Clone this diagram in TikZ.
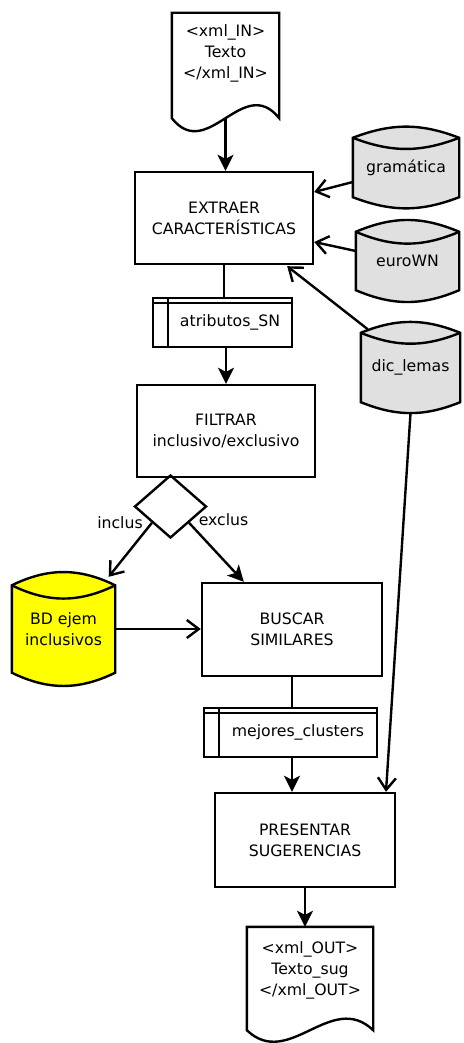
\documentclass[tikz,border=0pt]{standalone}
\usepackage{fontspec}
\setmainfont{DejaVu Sans}
\usetikzlibrary{shapes.geometric,arrows.meta,backgrounds}
\definecolor{gris}{RGB}{224,224,224}
\definecolor{amarillo}{RGB}{255,255,0}
\begin{document}
\begin{tikzpicture}[x=1pt, y=-1pt,
    texto/.style={font=\fontsize{15.7}{21}\selectfont},
    etiqueta/.style={texto, inner sep=0pt},
    caja/.style={texto, align=center, draw, line width=2.4pt, inner sep=0pt},
    datos/.style={texto, draw, line width=2.4pt, inner sep=0pt,
        execute at begin node={\hspace*{15pt}},
        path picture={
            \draw[line width=2.4pt] ([xshift=15pt]path picture bounding box.north west) -- ([xshift=15pt]path picture bounding box.south west);
            \draw[line width=2.4pt] ([yshift=-5pt]path picture bounding box.north west) -- ([yshift=-5pt]path picture bounding box.north east);
        }},
    disco/.style={texto, align=center, inner sep=0pt},
    docu/.style={texto, align=center, inner sep=0pt},
    rombo/.style={diamond, draw, line width=2.4pt, inner sep=0pt, minimum width=72pt, minimum height=63pt},
    borde/.style={line width=2.4pt},
    linea/.style={line width=2.4pt},
    flecha/.style={line width=2.4pt, -{Stealth[length=16pt, width=16pt, inset=4pt]}},
    flechab/.style={line width=2.4pt, -{Straight Barb[length=12pt, width=18pt]}}
]
    \useasboundingbox (0,0) rectangle (463,1043);
    % Documentos
    \node[docu, minimum width=107pt, minimum height=80pt] (entrada) at (225.5,53) {<xml\_IN>\\Texto\\</xml\_IN>};
    \node[docu, minimum width=126pt, minimum height=87pt] (salida) at (310,970.5) {<xml\_OUT>\\Texto\_sug\\</xml\_OUT>};
    \draw[borde] (entrada.north west) -- ([yshift=-25pt]entrada.south west)
        .. controls +(36,45) and +(-36,-45) .. ([yshift=-25pt]entrada.south east)
        -- (entrada.north east) -- cycle;
    \draw[borde] (salida.north west) -- ([yshift=-16pt]salida.south west)
        .. controls +(42,40) and +(-42,-40) .. ([yshift=-16pt]salida.south east)
        -- (salida.north east) -- cycle;
    \coordinate (entradab) at ([yshift=-25pt]entrada.south);
    % Bases de datos
    \node[disco, minimum width=106pt, minimum height=81pt] (gram) at (406,167.5) {gramática};
    \node[disco, minimum width=103pt, minimum height=82pt] (euro) at (407.5,261) {euroWN};
    \node[disco, minimum width=99pt, minimum height=91pt] (dic) at (410.5,367.5) {dic\_lemas};
    \node[disco, minimum width=103pt, minimum height=114pt] (bd) at (63.5,629) {BD ejem\\inclusivos};
    % Procesos
    \node[caja, minimum width=178pt, minimum height=92pt] (extraer) at (224,218) {EXTRAER\\CARACTERÍSTICAS};
    \node[datos, minimum width=139pt, minimum height=49pt] (atrib) at (222.5,322.5) {atributos\_SN};
    \node[caja, minimum width=178pt, minimum height=92pt] (filtrar) at (226,431) {FILTRAR\\inclusivo/exclusivo};
    \node[rombo] (decide) at (170.5,506.5) {};
    \node[caja, minimum width=180pt, minimum height=93pt] (buscar) at (292,629.5) {BUSCAR\\SIMILARES};
    \node[datos, minimum width=173pt, minimum height=49pt] (mejores) at (290.5,732.5) {mejores\_clusters};
    \node[caja, minimum width=180pt, minimum height=94pt] (presentar) at (305,840) {PRESENTAR\\SUGERENCIAS};
    % Etiquetas
    \node[etiqueta, anchor=east] (inclus) at ([xshift=-9pt]decide.south west) {inclus};
    \node[etiqueta, anchor=west] (exclus) at ([xshift=9.5pt, yshift=3pt]decide.south east) {exclus};
    % Cilindros
    \begin{scope}[on background layer]
        \foreach \n/\c/\d/\a in {gram/gris/11/21, euro/gris/12/23, dic/gris/11/22, bd/amarillo/13.5/26}
        {
            \draw[borde, fill=\c] ([yshift=-\d]\n.north west) to[bend left=\a] ([yshift=-\d]\n.north east)
                -- ([yshift=\d]\n.south east) to[bend left=\a] ([yshift=\d]\n.south west) -- cycle;
            \draw[borde] ([yshift=-\d]\n.north west) to[bend right=\a] ([yshift=-\d]\n.north east);
        }
    \end{scope}
    % Conexiones
    \draw[flecha] (entradab) -- (entradab |- extraer.north);
    \draw[flechab] ([yshift=-14.5pt]gram.west) -- ([yshift=26pt]extraer.east);
    \draw[flechab] ([yshift=10pt]euro.west) -- ([yshift=-24pt]extraer.east);
    \draw[flechab] ([xshift=7pt, yshift=-7.5pt]dic.north west) -- ([xshift=-27pt, yshift=-1pt]extraer.south east);
    \draw[linea] (extraer.south) -- (extraer.south |- atrib.north);
    \draw[flecha] (atrib.south -| filtrar.north) -- (filtrar.north);
    \draw[flechab] (decide.south west) -- ([xshift=-6.5pt, yshift=-5pt]bd.north east);
    \draw[flecha] (decide.south east) -- ([xshift=43pt]buscar.north west);
    \draw[flechab] (bd.east) -- (bd.east -| buscar.west);
    \draw[linea] (buscar.south) -- (buscar.south |- mejores.north);
    \draw[flecha] (buscar.south |- mejores.south) -- (buscar.south |- presentar.north);
    \draw[flechab] (dic.south) -- ([xshift=81pt]presentar.north);
    \draw[flecha] (presentar.south) -- (presentar.south |- salida.north);
\end{tikzpicture}
\end{document}
